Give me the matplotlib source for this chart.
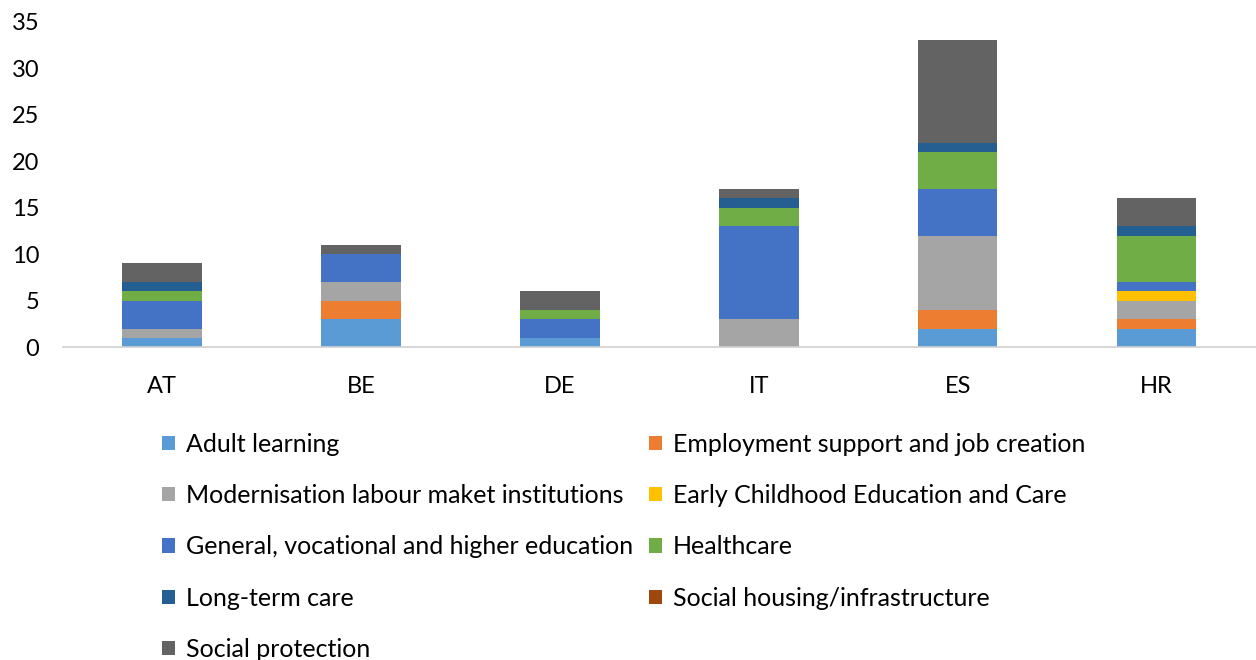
import matplotlib
matplotlib.use("Agg")
import matplotlib.pyplot as plt
import numpy as np

countries = ["AT", "BE", "DE", "IT", "ES", "HR"]
series_names = [
    "Adult learning",
    "Employment support and job creation",
    "Modernisation labour maket institutions",
    "Early Childhood Education and Care",
    "General, vocational and higher education",
    "Healthcare",
    "Long-term care",
    "Social housing/infrastructure",
    "Social protection",
]
adult_learning = [1, 3, 1, 0, 2, 2]
employment_support = [0, 2, 0, 0, 2, 1]
modernisation_lmi = [1, 2, 0, 3, 8, 2]
ecec = [0, 0, 0, 0, 0, 1]
general_education = [3, 3, 2, 10, 5, 1]
healthcare = [1, 0, 1, 2, 4, 5]
long_term_care = [1, 0, 0, 1, 1, 1]
social_housing = [0, 0, 0, 0, 0, 0]
social_protection = [2, 1, 2, 1, 11, 3]

series_values = [adult_learning, employment_support, modernisation_lmi, ecec,
                 general_education, healthcare, long_term_care, social_housing,
                 social_protection]
colors = ["#5B9BD5", "#ED7D31", "#A5A5A5", "#FFC000", "#4472C4",
          "#70AD47", "#255E91", "#9E480E", "#636363"]
yticks = [0, 5, 10, 15, 20, 25, 30, 35]

plt.rcParams['font.family'] = ['Lato', 'DejaVu Sans']

fig = plt.figure(figsize=(12.56, 6.6), dpi=100)
ax = fig.add_axes([0.05, 0.474, 0.95, 0.493])

x = np.arange(len(countries))
bottom = np.zeros(len(countries))
handles = []
for name, vals, c in zip(series_names, series_values, colors):
    v = np.array(vals, dtype=float)
    h = ax.bar(x, v, width=0.4, bottom=bottom, color=c, label=name)
    handles.append(h)
    bottom += v

ax.set_xlim(-0.5, len(countries) - 0.5)
ax.set_ylim(0, 35)
ax.set_yticks(yticks)
ax.set_xticks(x)
ax.set_xticklabels(countries)
ax.tick_params(axis='both', length=0, labelsize=17, colors='#000000')
ax.tick_params(axis='x', pad=21)
ax.tick_params(axis='y', pad=17)
for s in ['top', 'right', 'left']:
    ax.spines[s].set_visible(False)
ax.spines['bottom'].set_color('#D0D0D0')
ax.spines['bottom'].set_linewidth(1.2)

order = [0, 2, 4, 6, 8, 1, 3, 5, 7]
leg = fig.legend([handles[i] for i in order], [series_names[i] for i in order],
                 ncol=2, loc='upper left', bbox_to_anchor=(0.129, 0.344),
                 frameon=False, fontsize=18, handlelength=0.5, handleheight=0.5,
                 handletextpad=0.45, columnspacing=0.65, labelspacing=1.13,
                 borderpad=0, borderaxespad=0)

fig.savefig("out.png", dpi=100)
